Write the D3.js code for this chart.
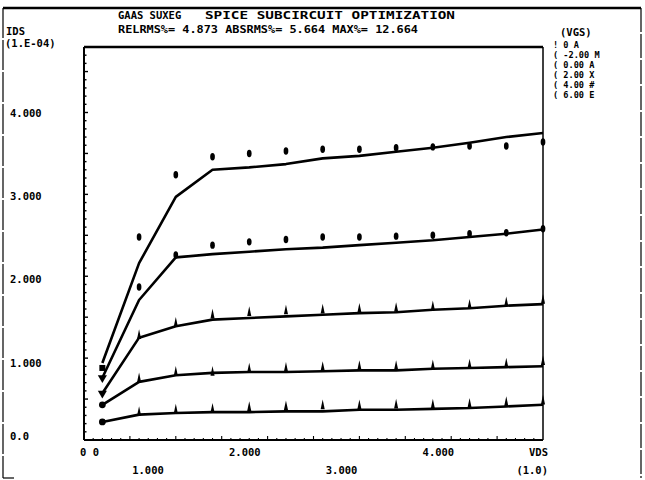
<!DOCTYPE html>
<html>
<head>
<meta charset="utf-8">
<script src="https://cdn.jsdelivr.net/npm/d3@7"></script>
<style>
  body { margin: 0; background: #fff; }
  text { font-family: "DejaVu Sans Mono", monospace; font-weight: bold; font-size: 10.5px; fill: #000; }
  text.leg { font-size: 8.6px; }
</style>
</head>
<body>
<svg id="viz"></svg>
<script>
  var svgW = 645, svgH = 480;

  // VDS sweep (V)
  var vds = [0.2, 0.6, 1.0, 1.4, 1.8, 2.2, 2.6, 3.0, 3.4, 3.8, 4.2, 4.6, 5.0];

  // model curves, IDS in 1.E-04 A (lines)
  var model1 = [0.22, 0.31, 0.33, 0.34, 0.34, 0.35, 0.35, 0.37, 0.37, 0.38, 0.39, 0.41, 0.43];
  var model2 = [0.43, 0.71, 0.79, 0.82, 0.83, 0.83, 0.84, 0.85, 0.85, 0.87, 0.88, 0.89, 0.90];
  var model3 = [0.57, 1.25, 1.39, 1.47, 1.49, 1.51, 1.53, 1.55, 1.56, 1.59, 1.61, 1.64, 1.66];
  var model4 = [0.76, 1.71, 2.23, 2.27, 2.30, 2.33, 2.35, 2.38, 2.41, 2.44, 2.48, 2.52, 2.57];
  var model5 = [0.94, 2.16, 2.97, 3.30, 3.33, 3.37, 3.44, 3.47, 3.52, 3.57, 3.63, 3.70, 3.75];

  // measured points
  var meas1 = [0.22, 0.31, 0.34, 0.35, 0.37, 0.38, 0.39, 0.39, 0.40, 0.40, 0.41, 0.43, 0.45];
  var meas2 = [0.43, 0.72, 0.80, 0.80, 0.84, 0.85, 0.86, 0.87, 0.87, 0.88, 0.89, 0.90, 0.93];
  var meas3 = [0.57, 1.25, 1.40, 1.50, 1.53, 1.55, 1.56, 1.57, 1.58, 1.60, 1.62, 1.65, 1.68];
  var meas4 = [0.76, 1.87, 2.26, 2.38, 2.42, 2.45, 2.48, 2.48, 2.49, 2.50, 2.52, 2.53, 2.58];
  var meas5 = [0.88, 2.48, 3.24, 3.46, 3.50, 3.53, 3.55, 3.55, 3.57, 3.58, 3.59, 3.59, 3.64];

  var xTicks = [0, 1, 2, 3, 4];
  var xTickLabels = ["0 0", "1.000", "2.000", "3.000", "4.000"];
  var yTicks = [0, 1, 2, 3, 4];
  var yTickLabels = ["0.0", "1.000", "2.000", "3.000", "4.000"];

  var titleLeft = "GAAS SUXEG";
  var titleRight = "SPICE SUBCIRCUIT OPTIMIZATION";
  var subText = "RELRMS%= 4.873 ABSRMS%= 5.664 MAX%= 12.664";
  var legendTitle = "(VGS)";
  var legendRows = ["! 0 A", "( -2.00 M", "( 0.00 A", "( 2.00 X", "( 4.00 #", "( 6.00 E"];

  var models = [model1, model2, model3, model4, model5];
  var meas = [meas1, meas2, meas3, meas4, meas5];

  var x = d3.scaleLinear().domain([0, 5]).range([84, 543]);
  var y = d3.scaleLinear().domain([0, 4.8]).range([440, 47]);

  var svg = d3.select("#viz").attr("width", svgW).attr("height", svgH);

  // outer page frame
  svg.append("line").attr("x1", 3).attr("x2", 641).attr("y1", 8).attr("y2", 8)
    .attr("stroke", "#000").attr("stroke-width", 2.5);
  svg.append("line").attr("x1", 3).attr("x2", 3).attr("y1", 8).attr("y2", 478)
    .attr("stroke", "#000").attr("stroke-width", 1.2).attr("stroke-dasharray", "30,2");
  svg.append("line").attr("x1", 641).attr("x2", 641).attr("y1", 8).attr("y2", 478)
    .attr("stroke", "#000").attr("stroke-width", 1.2).attr("stroke-dasharray", "24,2");
  svg.append("line").attr("x1", 3).attr("x2", 14).attr("y1", 478).attr("y2", 478)
    .attr("stroke", "#000").attr("stroke-width", 1.2);

  // titles
  svg.append("text").attr("x", 118).attr("y", 19).text(titleLeft);
  svg.append("text").attr("x", 205).attr("y", 19)
    .attr("textLength", 250).attr("lengthAdjust", "spacingAndGlyphs").text(titleRight);
  svg.append("text").attr("x", 118).attr("y", 33)
    .attr("textLength", 300).attr("lengthAdjust", "spacingAndGlyphs").text(subText);
  svg.append("text").attr("x", 6).attr("y", 35).text("IDS");
  svg.append("text").attr("x", 5).attr("y", 47).text("(1.E-04)");

  // legend
  svg.append("text").attr("x", 560).attr("y", 36).text(legendTitle);
  svg.selectAll(".leg").data(legendRows).enter().append("text")
    .attr("class", "leg")
    .attr("x", 553)
    .attr("y", function(d, i) { return 48 + i * 10; })
    .text(function(d) { return d; });

  // plot frame
  var frame = svg.append("g");
  frame.append("line").attr("x1", x(0)).attr("x2", x(5)).attr("y1", y(4.8)).attr("y2", y(4.8))
    .attr("stroke", "#000").attr("stroke-width", 2.4);
  frame.append("line").attr("x1", x(0)).attr("x2", x(5)).attr("y1", y(0)).attr("y2", y(0))
    .attr("stroke", "#000").attr("stroke-width", 2);
  frame.append("line").attr("x1", x(0)).attr("x2", x(0)).attr("y1", y(4.8)).attr("y2", y(0))
    .attr("stroke", "#000").attr("stroke-width", 2);
  frame.append("line").attr("x1", x(5)).attr("x2", x(5)).attr("y1", y(4.8)).attr("y2", y(0))
    .attr("stroke", "#000").attr("stroke-width", 1.5);

  // minor ticks on the left and bottom axes
  var yMinor = d3.range(0, 4.8, 0.1);
  frame.selectAll(".ym").data(yMinor).enter().append("line")
    .attr("x1", x(0)).attr("x2", function(d, i) { return x(0) + (i % 5 == 0 ? 4 : 2.5); })
    .attr("y1", function(d) { return y(d); }).attr("y2", function(d) { return y(d); })
    .attr("stroke", "#000").attr("stroke-width", 1.4);
  var xMinor = d3.range(0, 5, 0.1);
  frame.selectAll(".xm").data(xMinor).enter().append("line")
    .attr("x1", function(d) { return x(d); }).attr("x2", function(d) { return x(d); })
    .attr("y1", y(0)).attr("y2", function(d, i) { return y(0) - (i % 5 == 0 ? 4 : 2); })
    .attr("stroke", "#000").attr("stroke-width", 1.1);

  // y tick labels
  svg.selectAll(".yl").data(yTicks).enter().append("text")
    .attr("class", "yl")
    .attr("x", 10)
    .attr("y", function(d, i) { return i == 0 ? y(d) + 0 : y(d) + 10 - 1.5 * d; })
    .text(function(d, i) { return yTickLabels[i]; });

  // x tick labels, alternating rows like the plotter
  svg.selectAll(".xl").data(xTicks).enter().append("text")
    .attr("class", "xl")
    .attr("x", function(d, i) { return i == 0 ? x(d) - 4 : x(d) - 17 + 5 * d; })
    .attr("y", function(d, i) { return i % 2 == 0 ? 456 : 474; })
    .attr("text-anchor", function(d, i) { return i == 0 ? "start" : "end"; })
    .text(function(d, i) { return xTickLabels[i]; });
  svg.append("text").attr("x", x(5) + 5).attr("y", 456).attr("text-anchor", "end").text("VDS");
  svg.append("text").attr("x", x(5) + 5).attr("y", 474).attr("text-anchor", "end").text("(1.0)");

  // model lines
  var line = d3.line()
    .x(function(d, i) { return x(vds[i]); })
    .y(function(d) { return y(d); });

  svg.selectAll(".model").data(models).enter().append("path")
    .attr("class", "model")
    .attr("d", line)
    .attr("fill", "none")
    .attr("stroke", "#000")
    .attr("stroke-width", 2.6)
    .attr("stroke-linejoin", "round");

  // measured points: first column has distinct symbols, the rest are blobs / spikes
  var firstSym = [d3.symbolCircle, d3.symbolCircle, d3.symbolTriangle, d3.symbolTriangle, d3.symbolSquare];
  meas.forEach(function(series, s) {
    svg.selectAll(".m" + s).data(series).enter().append("path")
      .attr("class", "m" + s)
      .attr("transform", function(d, i) {
        var t = "translate(" + x(vds[i]) + "," + y(d) + ")";
        if (i == 0) return t + ((s == 2 || s == 3) ? " rotate(180)" : "");
        if (s >= 3) return t + " scale(0.85,1.35)";
        return "translate(" + x(vds[i]) + "," + (y(d) - 2) + ") scale(0.55,1.5)";
      })
      .attr("d", function(d, i) {
        var type = i == 0 ? firstSym[s] : (s >= 3 ? d3.symbolCircle : d3.symbolTriangle);
        return d3.symbol().type(type).size(i == 0 ? 36 : 24)();
      })
      .attr("fill", "#000");
  });
</script>
</body>
</html>
